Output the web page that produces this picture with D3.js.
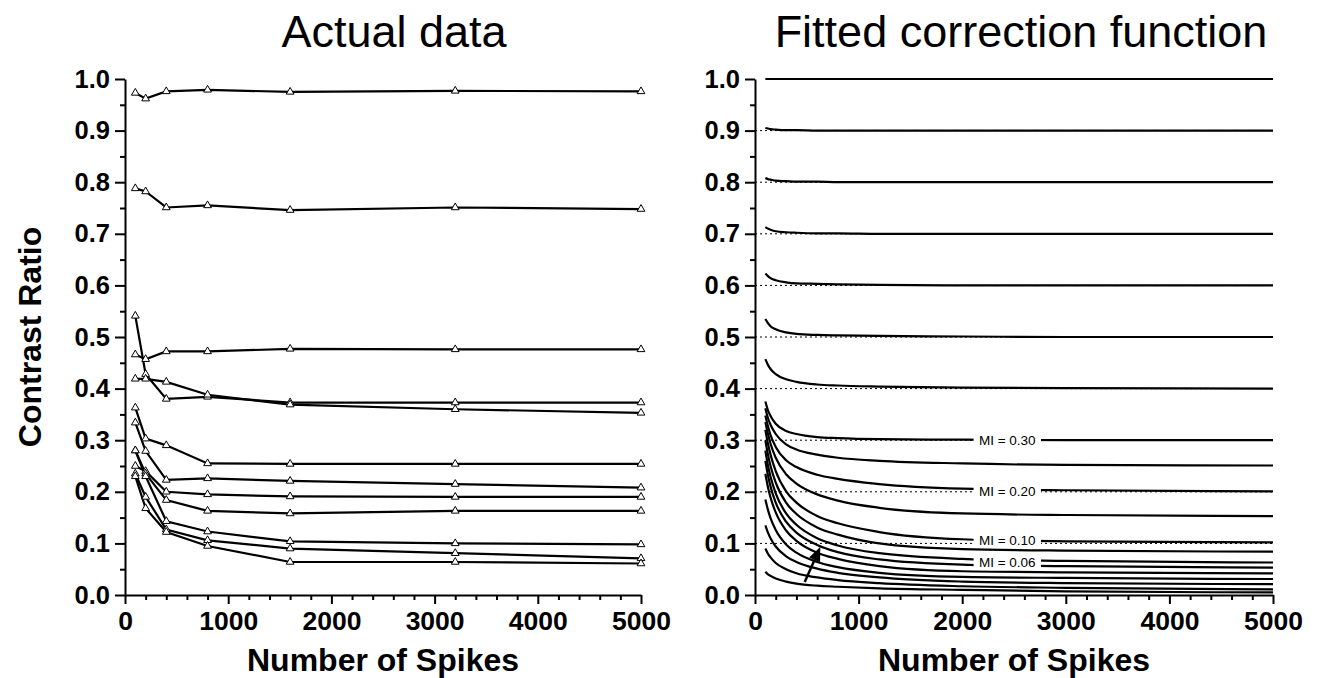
<!DOCTYPE html>
<html><head><meta charset="utf-8">
<script src="https://cdn.jsdelivr.net/npm/d3@7"></script>
<style>body{margin:0;background:#fff}svg{display:block}</style>
</head><body>
<svg id="c" width="1317" height="678"></svg>
<script>
// ---------- data ----------
const spikes = [100, 200, 400, 800, 1600, 3200, 5000];
const actualA = [0.973, 0.962, 0.976, 0.979, 0.975, 0.977, 0.976];
const actualB = [0.788, 0.782, 0.751, 0.755, 0.746, 0.751, 0.748];
const actualC = [0.541, 0.428, 0.380, 0.384, 0.373, 0.373, 0.373];
const actualD = [0.466, 0.457, 0.472, 0.472, 0.477, 0.476, 0.476];
const actualE = [0.419, 0.419, 0.413, 0.388, 0.369, 0.360, 0.353];
const actualF = [0.363, 0.303, 0.290, 0.255, 0.254, 0.254, 0.254];
const actualG = [0.334, 0.279, 0.223, 0.226, 0.221, 0.215, 0.208];
const actualH = [0.250, 0.240, 0.200, 0.195, 0.191, 0.190, 0.190];
const actualI = [0.280, 0.235, 0.184, 0.163, 0.158, 0.163, 0.163];
const actualJ = [0.280, 0.230, 0.143, 0.123, 0.104, 0.100, 0.098];
const actualK = [0.235, 0.190, 0.127, 0.106, 0.090, 0.081, 0.071];
const actualL = [0.230, 0.168, 0.122, 0.095, 0.064, 0.064, 0.061];
const actualSeries = [actualA, actualB, actualC, actualD, actualE, actualF, actualG, actualH, actualI, actualJ, actualK, actualL];

const fitN = [100, 125, 150, 200, 300, 400, 600, 800, 1200, 2000, 3000, 5000];
const fit100 = [1.000, 1.000, 1.000, 1.000, 1.000, 1.000, 1.000, 1.000, 1.000, 1.000, 1.000, 1.000];
const fit090 = [0.905, 0.904, 0.903, 0.902, 0.901, 0.901, 0.900, 0.900, 0.900, 0.900, 0.900, 0.900];
const fit080 = [0.808, 0.806, 0.805, 0.803, 0.802, 0.801, 0.801, 0.800, 0.800, 0.800, 0.800, 0.800];
const fit070 = [0.713, 0.710, 0.708, 0.705, 0.703, 0.702, 0.701, 0.701, 0.700, 0.700, 0.700, 0.700];
const fit060 = [0.623, 0.618, 0.614, 0.610, 0.606, 0.604, 0.603, 0.602, 0.601, 0.600, 0.600, 0.600];
const fit050 = [0.535, 0.527, 0.521, 0.515, 0.509, 0.506, 0.504, 0.503, 0.502, 0.501, 0.500, 0.500];
const fit040 = [0.457, 0.446, 0.438, 0.428, 0.418, 0.413, 0.408, 0.406, 0.404, 0.402, 0.401, 0.400];
const fit030 = [0.375, 0.358, 0.347, 0.332, 0.318, 0.312, 0.306, 0.304, 0.302, 0.301, 0.300, 0.300];
const fit025 = [0.362, 0.343, 0.330, 0.312, 0.292, 0.282, 0.272, 0.266, 0.260, 0.255, 0.252, 0.251];
const fit020 = [0.348, 0.327, 0.310, 0.287, 0.261, 0.248, 0.233, 0.225, 0.215, 0.206, 0.203, 0.201];
const fit015 = [0.335, 0.312, 0.293, 0.266, 0.234, 0.216, 0.195, 0.183, 0.169, 0.158, 0.155, 0.153];
const fit010 = [0.320, 0.293, 0.272, 0.240, 0.201, 0.179, 0.153, 0.139, 0.122, 0.108, 0.104, 0.102];
const fit008 = [0.300, 0.272, 0.250, 0.218, 0.179, 0.157, 0.131, 0.117, 0.100, 0.089, 0.086, 0.084];
const fit006 = [0.280, 0.251, 0.229, 0.197, 0.158, 0.136, 0.110, 0.096, 0.081, 0.070, 0.066, 0.063];
const fit005 = [0.260, 0.232, 0.210, 0.179, 0.142, 0.121, 0.097, 0.083, 0.069, 0.059, 0.056, 0.053];
const fit004 = [0.235, 0.209, 0.189, 0.160, 0.125, 0.105, 0.082, 0.070, 0.056, 0.046, 0.044, 0.042];
const fit003 = [0.185, 0.165, 0.149, 0.126, 0.098, 0.082, 0.064, 0.054, 0.043, 0.035, 0.033, 0.031];
const fit002 = [0.135, 0.121, 0.110, 0.094, 0.075, 0.064, 0.051, 0.043, 0.034, 0.026, 0.023, 0.021];
const fit001 = [0.090, 0.080, 0.073, 0.062, 0.050, 0.042, 0.034, 0.029, 0.023, 0.017, 0.014, 0.011];
const fit000 = [0.045, 0.040, 0.037, 0.032, 0.026, 0.022, 0.018, 0.016, 0.013, 0.010, 0.007, 0.005];
const fitSeries = [fit100, fit090, fit080, fit070, fit060, fit050, fit040, fit030, fit025, fit020,
                   fit015, fit010, fit008, fit006, fit005, fit004, fit003, fit002, fit001, fit000];

const refLevels = [0.1, 0.2, 0.3, 0.4, 0.5, 0.6, 0.7, 0.8, 0.9];
const miLabels = ["MI = 0.30", "MI = 0.20", "MI = 0.10", "MI = 0.06"];
const miLabelLevels = [0.300, 0.202, 0.106, 0.063];
const miLabelN = [2110, 2760];
const arrowFrom = [480, 0.025];
const arrowTo = [630, 0.093];

const yMajor = [0, 0.1, 0.2, 0.3, 0.4, 0.5, 0.6, 0.7, 0.8, 0.9, 1.0];
const yMinor = [0.05, 0.15, 0.25, 0.35, 0.45, 0.55, 0.65, 0.75, 0.85, 0.95];
const xMajor = [0, 1000, 2000, 3000, 4000, 5000];
const xMinor = [200, 400, 600, 800, 1200, 1400, 1600, 1800, 2200, 2400, 2600, 2800, 3200, 3400, 3600, 3800, 4200, 4400, 4600, 4800];

const titles = ["Actual data", "Fitted correction function"];
const titleCenters = [394, 1021];
const xTitle = "Number of Spikes";
const yTitle = "Contrast Ratio";

// ---------- drawing ----------
const svg = d3.select("#c");
const FONT = "'Liberation Sans', Arial, Helvetica, sans-serif";
const plotTop = 79, plotBottom = 595;
const panels = [{x0: 125, x1: 641}, {x0: 755, x1: 1273}];

function makeAxes(g, x, y) {
  g.append("g").attr("transform", `translate(${x.range()[0]},0)`)
    .call(d3.axisLeft(y).tickValues(yMajor).tickSize(10).tickSizeOuter(0).tickPadding(5).tickFormat(d3.format(".1f")));
  g.append("g").attr("transform", `translate(${x.range()[0]},0)`)
    .call(d3.axisLeft(y).tickValues(yMinor).tickSize(5).tickSizeOuter(0).tickFormat(""))
    .select(".domain").remove();
  const xAx = g.append("g").attr("transform", `translate(0,${plotBottom})`)
    .call(d3.axisBottom(x).tickValues(xMajor).tickSize(9).tickSizeOuter(0).tickPadding(7).tickFormat(d3.format("d")));
  g.append("g").attr("transform", `translate(0,${plotBottom})`)
    .call(d3.axisBottom(x).tickValues(xMinor).tickSize(5).tickSizeOuter(0).tickFormat(""))
    .select(".domain").remove();
  g.selectAll(".domain").attr("stroke", "#000").attr("stroke-width", 2);
  g.selectAll(".tick line").attr("stroke", "#000").attr("stroke-width", 2);
  g.selectAll(".tick text").attr("font-family", FONT).attr("font-weight", "bold")
    .attr("font-size", 25.5).attr("fill", "#000");
  xAx.selectAll(".tick text").attr("font-size", 26.5);
}

panels.forEach((p, i) => {
  const x = d3.scaleLinear().domain([0, 5000]).range([p.x0, p.x1]);
  const y = d3.scaleLinear().domain([0, 1]).range([plotBottom, plotTop]);
  const g = svg.append("g");
  const cx = (p.x0 + p.x1) / 2;

  svg.append("text").attr("x", titleCenters[i]).attr("y", 47).attr("text-anchor", "middle")
    .attr("font-family", FONT).attr("font-size", 45).text(titles[i]);
  svg.append("text").attr("x", cx).attr("y", 671).attr("text-anchor", "middle")
    .attr("font-family", FONT).attr("font-weight", "bold").attr("font-size", 32).text(xTitle);

  if (i === 0) {
    const line = d3.line().x((d, j) => x(spikes[j])).y(d => y(d));
    g.selectAll("path.s").data(actualSeries).join("path")
      .attr("d", line).attr("fill", "none").attr("stroke", "#000").attr("stroke-width", 2.2);
    const tri = d3.symbol(d3.symbolTriangle, 26);
    actualSeries.forEach(s => {
      g.selectAll(null).data(s).join("path")
        .attr("transform", (d, j) => `translate(${x(spikes[j])},${y(d)})`)
        .attr("d", tri).attr("fill", "#fff").attr("stroke", "#000").attr("stroke-width", 1);
    });
  } else {
    g.selectAll("line.ref").data(refLevels).join("line")
      .attr("x1", x(0)).attr("x2", x(5000)).attr("y1", d => y(d)).attr("y2", d => y(d))
      .attr("stroke", "#000").attr("stroke-width", 1).attr("stroke-dasharray", "2,3");
    const line = d3.line().curve(d3.curveMonotoneX).x((d, j) => x(fitN[j])).y(d => y(d));
    g.selectAll("path.f").data(fitSeries).join("path")
      .attr("d", line).attr("fill", "none").attr("stroke", "#000").attr("stroke-width", 2.2);
    miLabels.forEach((t, k) => {
      const yy = y(miLabelLevels[k]);
      g.append("rect").attr("x", x(miLabelN[0])).attr("y", yy - 7)
        .attr("width", x(miLabelN[1]) - x(miLabelN[0])).attr("height", 14).attr("fill", "#fff");
      g.append("text").attr("x", (x(miLabelN[0]) + x(miLabelN[1])) / 2).attr("y", yy)
        .attr("dy", "0.36em").attr("text-anchor", "middle")
        .attr("font-family", FONT).attr("font-size", 13.5).text(t);
    });
    const ax0 = x(arrowFrom[0]), ay0 = y(arrowFrom[1]), ax1 = x(arrowTo[0]), ay1 = y(arrowTo[1]);
    const ang = Math.atan2(ay1 - ay0, ax1 - ax0);
    const hl = 14, hw = 6;
    const bx = ax1 - hl * Math.cos(ang), by = ay1 - hl * Math.sin(ang);
    g.append("line").attr("x1", ax0).attr("y1", ay0).attr("x2", bx).attr("y2", by)
      .attr("stroke", "#000").attr("stroke-width", 2.5);
    g.append("path").attr("d", `M${ax1},${ay1}L${bx - hw * Math.sin(ang)},${by + hw * Math.cos(ang)}L${bx + hw * Math.sin(ang)},${by - hw * Math.cos(ang)}Z`)
      .attr("fill", "#000");
  }
  makeAxes(g, x, y);
});

svg.append("text").attr("transform", `translate(41,${(plotTop + plotBottom) / 2}) rotate(-90)`)
  .attr("text-anchor", "middle").attr("font-family", FONT).attr("font-weight", "bold")
  .attr("font-size", 32).text(yTitle);
</script>
</body></html>
